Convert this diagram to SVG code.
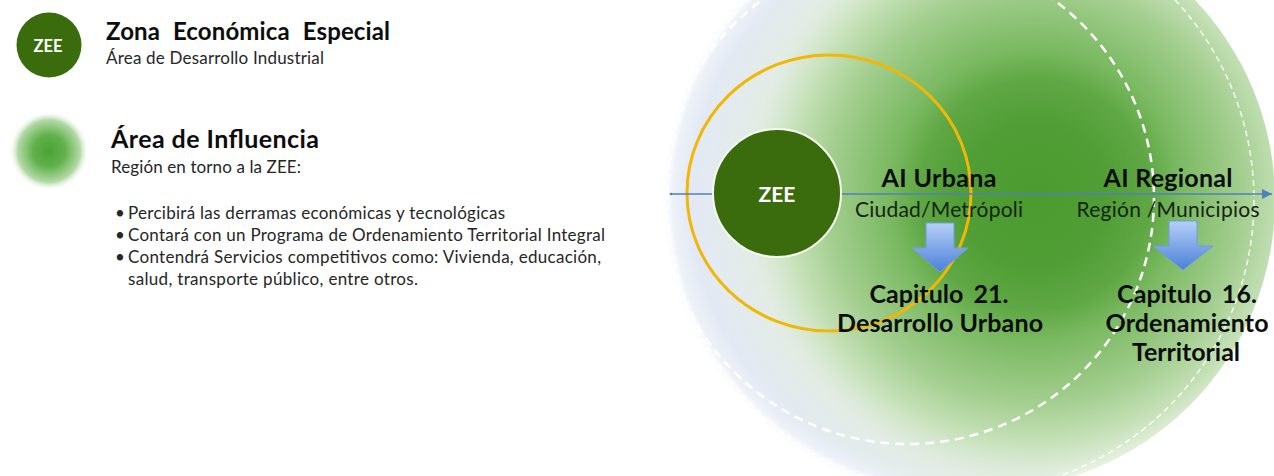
<svg xmlns="http://www.w3.org/2000/svg" width="1274" height="476" viewBox="0 0 1274 476">
<defs>
<style>
text{font-family:Lato,"Liberation Sans",Arial,sans-serif}
.hb{font-weight:700;fill:#0d0d0d}
.hr{font-weight:400;fill:#262626}
.lb{font-weight:700;fill:#0d0d0d;font-size:25px}
.lr{font-weight:400;fill:#15240f;font-size:21px}
.wz{font-weight:700;fill:#ffffff}
.zee{fill:#3a6b0d}
.dashA{fill:none;stroke:#ffffff;stroke-width:2.5;stroke-dasharray:9 6}
.dashC{fill:none;stroke:#ffffff;stroke-width:1.5;stroke-dasharray:6 4;opacity:0.9}
.blk{fill:url(#blueArrow);stroke:#6f9de0;stroke-width:1}
</style>
<radialGradient id="legendGlow" cx="0.5" cy="0.5" r="0.5">
<stop offset="0" stop-color="#4aa234"/>
<stop offset="0.4" stop-color="#62b14c"/>
<stop offset="0.78" stop-color="#b3d9a6"/>
<stop offset="1" stop-color="#ffffff" stop-opacity="0"/>
</radialGradient>
<radialGradient id="paleDisk" gradientUnits="userSpaceOnUse" cx="961" cy="200" r="300">
<stop offset="0" stop-color="#e2e9f4"/>
<stop offset="0.9" stop-color="#e3e9f4"/>
<stop offset="0.96" stop-color="#edf1f8"/>
<stop offset="1" stop-color="#ffffff" stop-opacity="0"/>
</radialGradient>
<radialGradient id="greenDisk" gradientUnits="userSpaceOnUse" cx="1035" cy="195" r="340">
<stop offset="0" stop-color="#4b9b30"/>
<stop offset="0.21" stop-color="#509e35"/>
<stop offset="0.34" stop-color="#5fa744"/>
<stop offset="0.43" stop-color="#7ab961"/>
<stop offset="0.61" stop-color="#a3ce8f"/>
<stop offset="0.73" stop-color="#c6e1b8"/>
<stop offset="0.85" stop-color="#e2efda" stop-opacity="0.55"/>
<stop offset="1" stop-color="#e6f0e0" stop-opacity="0"/>
</radialGradient>
<linearGradient id="blueArrow" x1="0" y1="0" x2="0" y2="1">
<stop offset="0" stop-color="#b6cff6"/>
<stop offset="1" stop-color="#4a80d8"/>
</linearGradient>
<marker id="ah" viewBox="0 0 10 10" refX="10" refY="5" markerWidth="10" markerHeight="10" markerUnits="userSpaceOnUse" orient="auto">
<path d="M0,0 L10,5 L0,10 z" fill="#4f81bd"/>
</marker>
</defs>

<rect width="1274" height="476" fill="#ffffff"/>

<!-- Legend -->
<g id="legend-zee">
<circle class="zee" cx="49" cy="45" r="32.5"/>
<text class="wz" x="48" y="52" font-size="16.5" text-anchor="middle">ZEE</text>
<text class="hb" x="106" y="40" font-size="24" word-spacing="7" textLength="284">Zona Económica Especial</text>
<text class="hr" x="106" y="63.5" font-size="17" textLength="218">Área de Desarrollo Industrial</text>
</g>

<g id="legend-influencia">
<circle cx="49" cy="151" r="40" fill="url(#legendGlow)"/>
<text class="hb" x="111" y="148" font-size="25" textLength="208">Área de Influencia</text>
<text class="hr" x="111" y="173" font-size="17" textLength="190">Región en torno a la ZEE:</text>
<g class="hr" font-size="17">
<text x="115" y="219">•</text>
<text x="128" y="219" textLength="377">Percibirá las derramas económicas y tecnológicas</text>
<text x="115" y="241">•</text>
<text x="128" y="241" textLength="477">Contará con un Programa de Ordenamiento Territorial Integral</text>
<text x="115" y="263">•</text>
<text x="128" y="263" textLength="473">Contendrá Servicios competitivos como: Vivienda, educación,</text>
<text x="128" y="285" textLength="290">salud, transporte público, entre otros.</text>
</g>
</g>

<!-- Influence areas -->
<g id="area-influencia">
<circle cx="961" cy="200" r="300" fill="url(#paleDisk)"/>
<circle cx="985" cy="200" r="290" fill="url(#greenDisk)"/>
</g>
<g id="ai-regional-limite">
<circle class="dashC" cx="961" cy="200" r="293"/>
</g>
<g id="ai-urbana-limite">
<circle class="dashA" cx="908" cy="198" r="246"/>
</g>
<g id="ai-urbana-anillo">
<ellipse cx="829" cy="193" rx="142" ry="138" fill="none" stroke="#f2b705" stroke-width="3"/>
</g>

<!-- Connectors -->
<g id="connectors">
<line x1="671" y1="194" x2="1272" y2="194" stroke="#4f81bd" stroke-width="1.3" marker-end="url(#ah)"/>
<circle cx="671" cy="194" r="1.3" fill="#4f81bd"/>
<path class="blk" d="M926,223 H954 V248 H968 L940,272 L912,248 H926 Z"/>
<path class="blk" d="M1169,221 H1197 V246 H1213 L1183,270 L1153,246 H1169 Z"/>
</g>

<!-- ZEE node -->
<g id="zee">
<circle class="zee" cx="777" cy="193" r="64" stroke="#f4f8ee" stroke-width="2"/>
<text class="wz" x="777" y="202" font-size="21" text-anchor="middle">ZEE</text>
</g>

<g id="ai-urbana">
<text class="lb" x="939" y="187" text-anchor="middle" textLength="115">AI Urbana</text>
<text class="lr" x="939" y="217" text-anchor="middle" textLength="168">Ciudad/Metrópoli</text>
</g>

<g id="ai-regional">
<text class="lb" x="1168" y="187" text-anchor="middle" textLength="129">AI Regional</text>
<text class="lr" x="1168" y="217" text-anchor="middle" textLength="183">Región /Municipios</text>
</g>

<g id="capitulo-21">
<text class="lb" x="939" y="303" text-anchor="middle" word-spacing="4" textLength="139">Capitulo 21.</text>
<text class="lb" x="940" y="332" text-anchor="middle" textLength="206">Desarrollo Urbano</text>
</g>

<g id="capitulo-16">
<text class="lb" x="1187" y="303" text-anchor="middle" word-spacing="4" textLength="140">Capitulo 16.</text>
<text class="lb" x="1187" y="332" text-anchor="middle" textLength="163">Ordenamiento</text>
<text class="lb" x="1186" y="361" text-anchor="middle" textLength="108">Territorial</text>
</g>
</svg>
